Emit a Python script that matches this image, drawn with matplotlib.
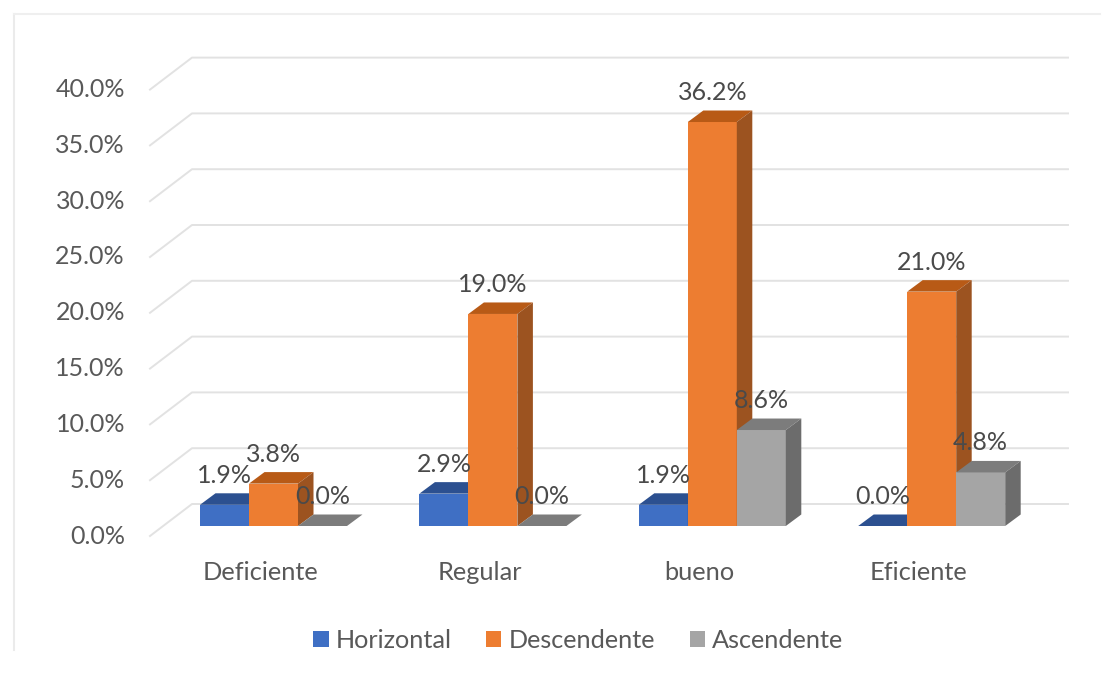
import matplotlib
matplotlib.use('Agg')
import matplotlib.pyplot as plt
import numpy as np
from matplotlib.lines import Line2D
from matplotlib.patches import Patch, Polygon

plt.rcParams['font.family'] = ['Lato', 'DejaVu Sans']

# data
categories = ['Deficiente', 'Regular', 'bueno', 'Eficiente']
series_names = ['Horizontal', 'Descendente', 'Ascendente']
horizontal = [1.9, 2.9, 1.9, 0.0]
descendente = [3.8, 19.0, 36.2, 21.0]
ascendente = [0.0, 0.0, 8.6, 4.8]
y_ticks = [0, 5, 10, 15, 20, 25, 30, 35, 40]

# front, top, side colours of each series
colors = [('#3F6FC4', '#2C5090', '#2C5090'),
          ('#ED7D31', '#B85A16', '#9C5320'),
          ('#A5A5A5', '#7C7C7C', '#6C6C6C')]

W, H = 1120, 676
fig = plt.figure(figsize=(W / 100, H / 100), dpi=100, facecolor='white')

# axes box in pixels of the picture
left, right, top, bottom = 150, 1068, 56, 537
ax = fig.add_axes([left / W, 1 - bottom / H, (right - left) / W, (bottom - top) / H])

px_per_cat = 219.4
px_per_pct = 11.16
ax.set_xlim((left - 273.5) / px_per_cat, (right - 273.5) / px_per_cat)
ax.set_ylim(-(bottom - 526) / px_per_pct, (526 - top) / px_per_pct)

# fake depth, in data units
dx_bar = 15.5 / px_per_cat
dy_bar = 11.5 / px_per_pct
dx_wall = 42 / px_per_cat
dy_wall = 32 / px_per_pct
front_shift = 10 / px_per_pct
label_shift = 8 / px_per_pct
bar_w = 49 / px_per_cat

# walls and grid lines
x0, x1 = ax.get_xlim()
for v in y_ticks:
    y_front = v - front_shift
    ax.plot([x0, x0 + dx_wall, x1], [y_front, y_front + dy_wall, y_front + dy_wall],
            color='#E2E2E2', lw=1.4, zorder=1, clip_on=False)

# bars
x = np.arange(len(categories))
all_series = [horizontal, descendente, ascendente]
for s, values in enumerate(all_series):
    front, top_c, side = colors[s]
    xs = x + (s - 1) * bar_w
    ax.bar(xs, values, width=bar_w, color=front, linewidth=0, zorder=3 + s)
    for xi, v in zip(xs, values):
        xl, xr = xi - bar_w / 2, xi + bar_w / 2
        ax.add_patch(Polygon([(xl, v), (xr, v), (xr + dx_bar, v + dy_bar), (xl + dx_bar, v + dy_bar)],
                             closed=True, fc=top_c, ec='none', zorder=3 + s))
        ax.add_patch(Polygon([(xr, 0), (xr + dx_bar, dy_bar), (xr + dx_bar, v + dy_bar), (xr, v)],
                             closed=True, fc=side, ec='none', zorder=3 + s))
        ax.annotate(f'{v:.1f}%', (xi, v + dy_bar), xytext=(0, 18), textcoords='offset pixels',
                    ha='center', va='center', fontsize=18, color='#4A4A4A', zorder=10)

# axis texts
ax.set_yticks([v - label_shift for v in y_ticks])
ax.set_yticklabels([f'{v:.1f}%' for v in y_ticks])
ax.set_xticks(x - 13 / px_per_cat)
ax.set_xticklabels(categories)
ax.tick_params(axis='y', length=0, pad=18, labelsize=18, labelcolor='#595959')
ax.tick_params(axis='x', length=0, pad=17, labelsize=18.3, labelcolor='#595959')
for sp in ax.spines.values():
    sp.set_visible(False)
ax.patch.set_alpha(0)

handles = [Patch(fc=colors[i][0], ec='none', label=series_names[i]) for i in range(3)]
fig.legend(handles=handles, loc='center', bbox_to_anchor=(578.5 / W, 1 - 640 / H), ncol=3,
           frameon=False, fontsize=18.2, labelcolor='#595959', handlelength=0.6, handleheight=0.6,
           handletextpad=0.3, columnspacing=1.35, borderpad=0)

# faint chart frame
fig.add_artist(Line2D([14 / W, 14 / W], [1 - 650 / H, 1 - 14 / H], color='#EBEBEB', lw=1.5))
fig.add_artist(Line2D([14 / W, 1100 / W], [1 - 14 / H, 1 - 14 / H], color='#EFEFEF', lw=1.5))

fig.savefig('out.png', dpi=100)
